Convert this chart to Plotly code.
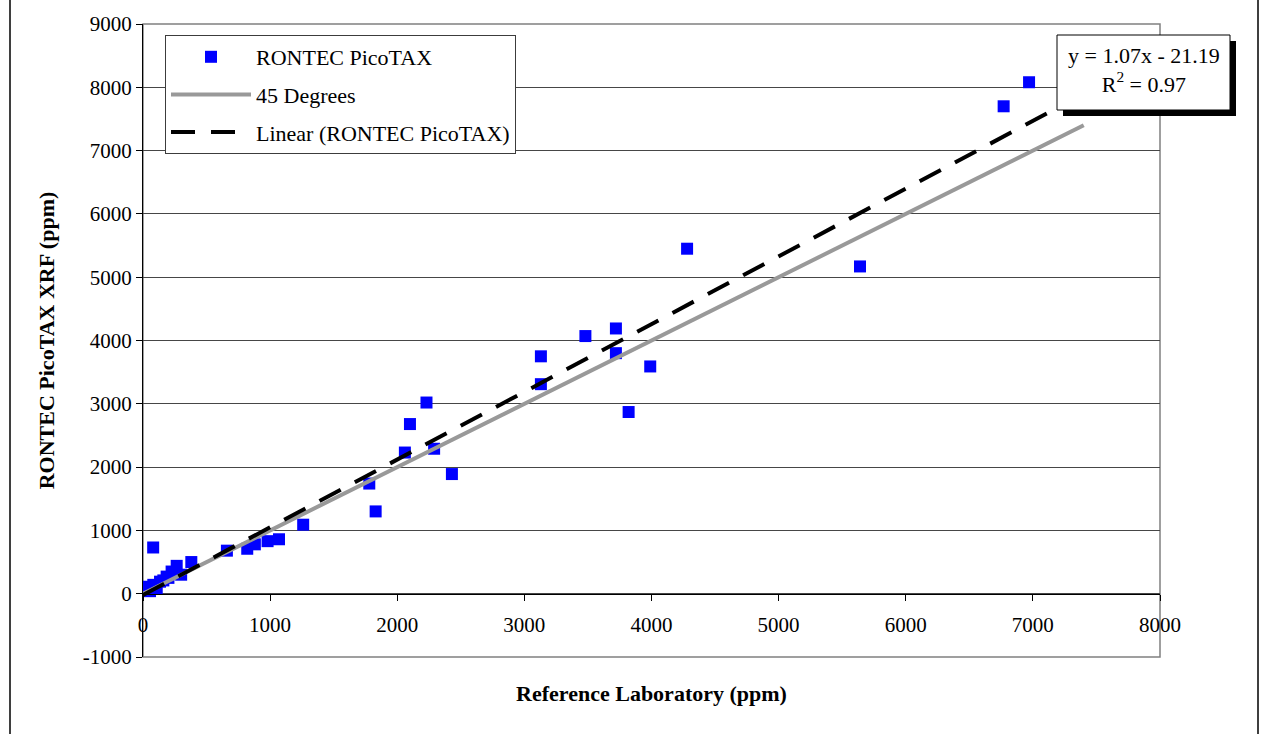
import plotly.graph_objects as go

# ---- data ----
ref_lab = [6970, 6770, 5640, 4280, 3990, 3820, 3720, 3720, 3480, 3130, 3130,
           2430, 2230, 2100, 2290, 2060, 1830, 1780, 1260, 1070, 980, 880, 820,
           660, 380, 80, 300, 265, 225, 186, 134, 81, 29, 3, 55, 108, 160, 200]
picotax = [8080, 7700, 5170, 5450, 3590, 2870, 4190, 3800, 4070, 3750, 3310,
           1890, 3020, 2680, 2290, 2230, 1300, 1740, 1090, 860, 830, 780, 710,
           680, 500, 730, 300, 440, 350, 270, 190, 140, 110, 60, 40, 90, 210, 250]

line45_x = [0, 7400]
line45_y = [0, 7400]

trend_slope = 1.07
trend_intercept = -21.19
trend_x = [0, 7400]
trend_y = [trend_slope * v + trend_intercept for v in trend_x]

x_ticks = [0, 1000, 2000, 3000, 4000, 5000, 6000, 7000, 8000]
y_ticks = [-1000, 0, 1000, 2000, 3000, 4000, 5000, 6000, 7000, 8000, 9000]

FONT = "Liberation Serif"
W, H = 1261, 734
ML, MR, MT, MB = 143, 101, 24, 77
PW = W - ML - MR
PH = H - MT - MB


def px2paper_x(px):
    return (px - ML) / PW


def px2paper_y(py):
    return (H - MB - py) / PH


fig = go.Figure()
fig.add_trace(go.Scatter(
    x=ref_lab, y=picotax, mode="markers", name="RONTEC PicoTAX",
    marker=dict(symbol="square", size=12, color="rgb(0,0,255)", line=dict(width=0)),
    legendgroup="a"))
fig.add_trace(go.Scatter(
    x=line45_x, y=line45_y, mode="lines", name="45 Degrees",
    line=dict(color="rgb(153,153,153)", width=4), legendgroup="b"))
fig.add_trace(go.Scatter(
    x=trend_x, y=trend_y, mode="lines", name="Linear (RONTEC PicoTAX)",
    line=dict(color="black", width=4, dash="24px,16px"), legendgroup="c"))

shapes = [
    # plot-area frame
    dict(type="rect", xref="paper", yref="paper", x0=0, x1=1, y0=0, y1=1,
         line=dict(color="rgb(128,128,128)", width=1.5), layer="below"),
    # outer chart border
    dict(type="rect", xref="paper", yref="paper",
         x0=px2paper_x(10), x1=px2paper_x(1258), y0=px2paper_y(760), y1=px2paper_y(-10),
         line=dict(color="black", width=1.5)),
    # equation box shadow
    dict(type="rect", xref="paper", yref="paper",
         x0=px2paper_x(1063), x1=px2paper_x(1236), y0=px2paper_y(116), y1=px2paper_y(41),
         fillcolor="black", line=dict(width=0)),
    # equation box
    dict(type="rect", xref="paper", yref="paper",
         x0=px2paper_x(1057), x1=px2paper_x(1230), y0=px2paper_y(110), y1=px2paper_y(35),
         fillcolor="white", line=dict(color="black", width=1)),
]

annotations = [
    dict(xref="paper", yref="paper", x=px2paper_x(1143.5), y=px2paper_y(70),
         xanchor="center", yanchor="middle", showarrow=False, align="center",
         text="y = 1.07x - 21.19<br>R<sup>2</sup> = 0.97",
         font=dict(family=FONT, size=22, color="black")),
]

fig.update_layout(
    width=W, height=H, autosize=False,
    margin=dict(l=ML, r=MR, t=MT, b=MB, pad=0),
    paper_bgcolor="white", plot_bgcolor="white",
    font=dict(family=FONT, size=21, color="black"),
    showlegend=True,
    legend=dict(
        x=px2paper_x(165), y=px2paper_y(35), xanchor="left", yanchor="top",
        bgcolor="white", bordercolor="rgb(60,60,60)", borderwidth=1,
        font=dict(family=FONT, size=22), itemwidth=80, tracegroupgap=6,
        traceorder="grouped"),
    shapes=shapes,
    annotations=annotations,
    xaxis=dict(
        range=[0, 8000], tickvals=x_ticks, ticktext=[str(v) for v in x_ticks],
        showgrid=False, zeroline=False, showline=True, linecolor="black", linewidth=1,
        ticks="outside", ticklen=6, tickcolor="black", ticklabelstandoff=6,
        anchor="free", position=0.1,
        tickfont=dict(family=FONT, size=21),
        title=dict(text="<b>Reference Laboratory (ppm)</b>", standoff=49,
                   font=dict(family=FONT, size=22)),
    ),
    yaxis=dict(
        range=[-1000, 9000], tickvals=y_ticks, ticktext=[str(v) for v in y_ticks],
        showgrid=True, gridcolor="rgb(70,70,70)", gridwidth=1,
        zeroline=False, showline=True, linecolor="black", linewidth=1,
        ticks="outside", ticklen=6, tickcolor="black",
        tickfont=dict(family=FONT, size=21),
        title=dict(text="<b>RONTEC PicoTAX XRF (ppm)</b>", standoff=22,
                   font=dict(family=FONT, size=22)),
    ),
)

fig.write_html("out.html", config={"displayModeBar": False},
               post_script="document.body.style.margin='0';")
